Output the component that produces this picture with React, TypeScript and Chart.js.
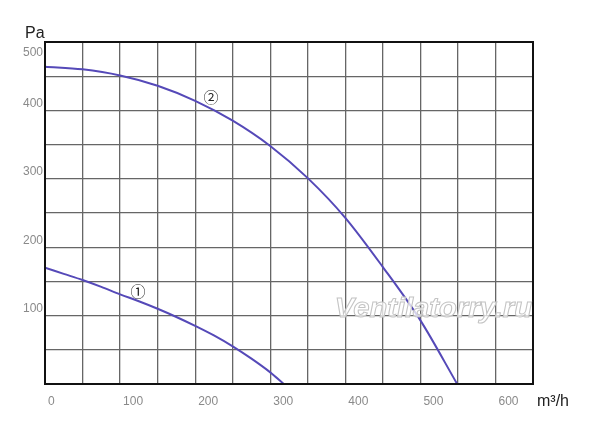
import React, { useEffect, useRef } from "react";
import { Chart, registerables } from "chart.js";

Chart.register(...registerables);

// Flow (m³/h) and pressure (Pa)
const fan1Flow = [0, 25, 50, 75, 100, 125, 150, 175, 200, 225, 250, 275, 300, 318];
const fan1Pressure = [170, 161, 152, 142, 131, 121, 110, 98, 85, 71, 55, 37, 17, 0];
const fan2Flow = [0, 50, 100, 150, 200, 250, 300, 350, 400, 450, 500, 549];
const fan2Pressure = [464, 460, 451, 436, 414, 385, 348, 301, 243, 171, 93, 0];

const xTickLabels = ["0", "100", "200", "300", "400", "500", "600"];
const yTickLabels = ["100", "200", "300", "400", "500"];
const curveLabels = ["①", "②"];
const curveLabelFlow = [124, 221];
const curveLabelPressure = [136, 419];
const watermark = "Ventilatorry.ru";

const X_MAX = 650;
const Y_MAX = 500;
const LINE_COLOR = "#5549b8";
const TICK_COLOR = "#8a8a8a";

const overlay = {
  id: "overlay",
  afterDraw(chart: any) {
    const { ctx, chartArea, scales } = chart;
    const xs = scales.x;
    const ys = scales.y;
    ctx.save();
    // plot frame
    ctx.strokeStyle = "#111";
    ctx.lineWidth = 2;
    ctx.strokeRect(chartArea.left, chartArea.top, chartArea.right - chartArea.left, chartArea.bottom - chartArea.top);

    // axis units
    ctx.fillStyle = "#222";
    ctx.font = "16px 'Liberation Sans', Arial, sans-serif";
    ctx.textBaseline = "middle";
    ctx.textAlign = "left";
    ctx.fillText("Pa", chartArea.left - 20, chartArea.top - 8);
    ctx.fillText("m³/h", chartArea.right + 4, chartArea.bottom + 18);

    // top y label (sits just below the frame top)
    ctx.fillStyle = TICK_COLOR;
    ctx.font = "12px 'Liberation Sans', Arial, sans-serif";
    ctx.textAlign = "right";
    ctx.fillText(yTickLabels[yTickLabels.length - 1], chartArea.left - 2, chartArea.top + 11);

    // curve labels
    ctx.fillStyle = "#222";
    ctx.font = "15px 'Noto Sans CJK SC', 'DejaVu Sans', sans-serif";
    ctx.textAlign = "center";
    curveLabels.forEach((t, i) => {
      ctx.fillText(t, xs.getPixelForValue(curveLabelFlow[i]), ys.getPixelForValue(curveLabelPressure[i]));
    });

    // watermark
    const wx = xs.getPixelForValue(386);
    const wy = ys.getPixelForValue(98);
    ctx.translate(wx, wy);
    ctx.scale(1.08, 1);
    ctx.font = "italic bold 27px 'Liberation Sans', Arial, sans-serif";
    ctx.textAlign = "left";
    ctx.textBaseline = "alphabetic";
    ctx.lineWidth = 1;
    ctx.fillStyle = "rgba(255,255,255,0.75)";
    ctx.strokeStyle = "#c4c4c4";
    ctx.fillText(watermark, 0, 0);
    ctx.strokeText(watermark, 0, 0);
    ctx.restore();
  },
};

export default function App() {
  const ref = useRef<HTMLCanvasElement>(null);
  useEffect(() => {
    if (!ref.current) return;
    const chart = new Chart(ref.current, {
      type: "line",
      data: {
        datasets: [
          {
            label: "1",
            data: fan1Flow.map((x, i) => ({ x, y: fan1Pressure[i] })),
            borderColor: LINE_COLOR,
            borderWidth: 2,
            pointRadius: 0,
            cubicInterpolationMode: "monotone",
            fill: false,
          },
          {
            label: "2",
            data: fan2Flow.map((x, i) => ({ x, y: fan2Pressure[i] })),
            borderColor: LINE_COLOR,
            borderWidth: 2,
            pointRadius: 0,
            cubicInterpolationMode: "monotone",
            fill: false,
          },
        ],
      },
      options: {
        animation: false,
        responsive: true,
        maintainAspectRatio: false,
        layout: { padding: { top: 34, right: 59, left: 0, bottom: 0 } },
        plugins: { legend: { display: false }, tooltip: { enabled: false } },
        scales: {
          x: {
            type: "linear",
            min: 0,
            max: X_MAX,
            afterFit: (s: any) => {
              s.height = 31;
            },
            grid: { color: "#666", lineWidth: 1.3, drawTicks: false },
            border: { display: false },
            ticks: {
              stepSize: 50,
              align: "start",
              labelOffset: 3,
              padding: 10,
              maxRotation: 0,
              autoSkip: false,
              color: TICK_COLOR,
              font: { family: "'Liberation Sans', Arial, sans-serif", size: 12 },
              callback: (v: any) => (xTickLabels.includes(String(v)) ? String(v) : ""),
            },
          },
          y: {
            type: "linear",
            min: 0,
            max: Y_MAX,
            afterFit: (s: any) => {
              s.width = 37;
            },
            grid: { color: "#666", lineWidth: 1.3, drawTicks: false },
            border: { display: false },
            ticks: {
              stepSize: 50,
              labelOffset: -7,
              padding: 2,
              autoSkip: false,
              color: TICK_COLOR,
              font: { family: "'Liberation Sans', Arial, sans-serif", size: 12 },
              callback: (v: any) =>
                yTickLabels.slice(0, -1).includes(String(v)) ? String(v) : "",
            },
          },
        },
      },
      plugins: [overlay],
    });
    return () => chart.destroy();
  }, []);
  return (
    <div style={{ width: 584, height: 407, position: "relative" }}>
      <canvas ref={ref} />
    </div>
  );
}
